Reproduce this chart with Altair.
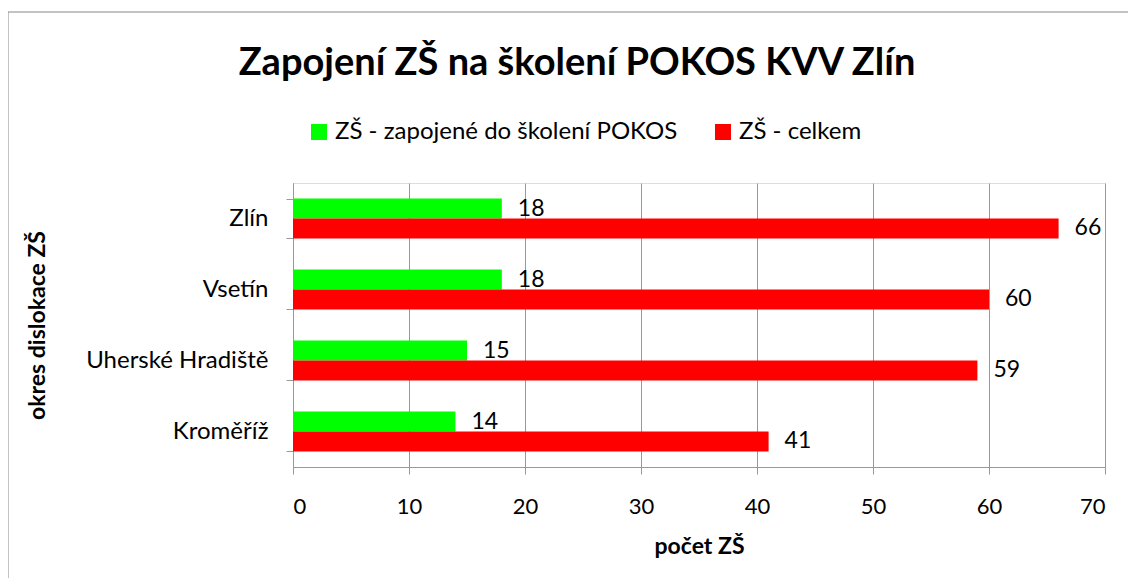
import altair as alt
import pandas as pd

categories = ["Zlín", "Vsetín", "Uherské Hradiště", "Kroměříž"]
series = ["ZŠ - zapojené do školení POKOS", "ZŠ - celkem"]
zapojene = [18, 18, 15, 14]
celkem = [66, 60, 59, 41]
colors = ["#00FF00", "#FF0000"]
x_ticks = [0, 10, 20, 30, 40, 50, 60, 70]

rows = []
for c, a, b in zip(categories, zapojene, celkem):
    rows.append({"okres": c, "serie": series[0], "pocet": a})
    rows.append({"okres": c, "serie": series[1], "pocet": b})
df = pd.DataFrame(rows)

FONT = "Lato"

y_enc = alt.Y(
    "okres:N",
    sort=categories,
    scale=alt.Scale(paddingInner=0.44, paddingOuter=0.22),
    axis=alt.Axis(
        title="okres dislokace ZŠ",
        titleFontSize=23,
        titleFontWeight="bold",
        titleFont=FONT,
        titleColor="#000000",
        titleAngle=-90,
        titleAlign="center",
        titleBaseline="middle",
        titleX=-256,
        titleY=142,
        labelFont=FONT,
        labelFontSize=24,
        labelColor="#000000",
        labelPadding=18,
        tickBand="extent",
        tickSize=7,
        tickColor="#999999",
        domainColor="#999999",
        grid=False,
        labelLimit=400,
    ),
)

x_enc = alt.X(
    "pocet:Q",
    scale=alt.Scale(domain=[0, 70], nice=False),
    axis=alt.Axis(
        title="počet ZŠ",
        values=x_ticks,
        titleFontSize=23,
        titleFontWeight="bold",
        titleFont=FONT,
        titleColor="#000000",
        titlePadding=18,
        labelFont=FONT,
        labelFontSize=22,
        labelColor="#000000",
        labelPadding=22,
        tickSize=7,
        tickColor="#999999",
        domainColor="#999999",
        grid=True,
        gridColor="#999999",
    ),
)

base = alt.Chart(df).encode(
    y=y_enc,
    yOffset=alt.YOffset("serie:N", sort=series),
)

bars = base.mark_bar().encode(
    x=x_enc,
    color=alt.Color(
        "serie:N",
        sort=series,
        scale=alt.Scale(domain=series, range=colors),
        legend=alt.Legend(
            title=None,
            orient="none",
            legendX=14,
            legendY=-63,
            direction="horizontal",
            symbolType="square",
            symbolSize=256,
            symbolStrokeWidth=0,
            labelFont=FONT,
            labelFontSize=24,
            labelColor="#000000",
            labelLimit=500,
            columnPadding=33,
            labelOffset=4,
        ),
    ),
)

labels = base.mark_text(align="left", dx=16, fontSize=23, font=FONT, color="#000000").encode(
    x="pocet:Q",
    text="pocet:Q",
)

border = alt.Chart(pd.DataFrame({"a": [0]})).mark_rect(
    fill=None, stroke="#888888", strokeWidth=1
).encode(
    x=alt.value(-285), x2=alt.value(845), y=alt.value(-171), y2=alt.value(405)
)

chart = alt.layer(border, bars, labels).properties(
    width=812,
    height=284,
    padding={"left": 285, "top": 175, "right": 23, "bottom": 111},
    autosize=alt.AutoSizeParams(type="none"),
    title=alt.TitleParams(
        "Zapojení ZŠ na školení POKOS KVV Zlín",
        fontSize=38,
        fontWeight="bold",
        font=FONT,
        color="#000000",
        anchor="middle",
        offset=-71,
        dx=-122,
    ),
).configure_view(stroke=None).configure(background="#FFFFFF")

chart.save("out.html", embed_options={"renderer": "svg", "actions": False})
